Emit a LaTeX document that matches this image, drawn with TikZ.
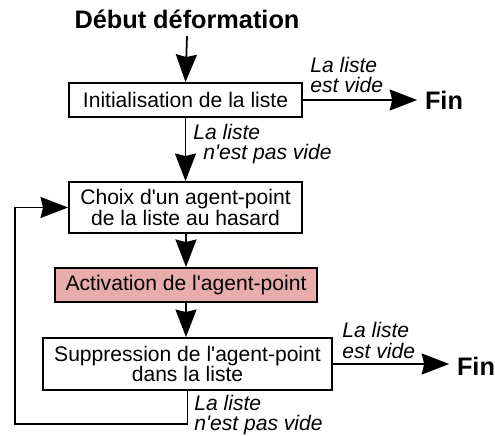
\documentclass[tikz,border=0pt]{standalone}
\usepackage{fontspec}
\setmainfont{Liberation Sans}
\usepackage{tikz}
\usetikzlibrary{arrows.meta, positioning, calc}
\definecolor{activpink}{HTML}{E9ACAC}
\newcommand{\apo}{\textquotesingle}
\tikzset{
  etape/.style={draw=black, line width=1.1pt, fill=white, align=center,
                inner sep=2pt, font=\fontsize{12}{11.8}\selectfont},
  titre/.style={font=\fontsize{14.4}{16}\selectfont\bfseries, inner sep=0.15cm},
  cond/.style={align=left, inner sep=0pt, font=\fontsize{12}{11.8}\selectfont\itshape},
  arrow/.style={-{Stealth[length=0.55cm,width=0.42cm,inset=0.05cm]}, line width=1pt}
}

\begin{document}
\begin{tikzpicture}
        \useasboundingbox (0,0) rectangle (9.9,8.72);

        \node[titre] (debut) at (3.74, 8.34) {Début déformation};

        \node[etape, minimum width=4.66cm, minimum height=0.68cm] (init) at (3.71, 6.72) {Initialisation de la liste};
        \node[etape, minimum width=4.66cm, minimum height=1.02cm] (choix) at (3.71, 4.57) {Choix d\apo un agent-point\\de la liste au hasard};
        \node[etape, fill=activpink, minimum width=5.24cm, minimum height=0.68cm] (activ) at (3.72, 3.02) {Activation de l\apo agent-point};
        \node[etape, minimum width=5.78cm, minimum height=1.04cm] (suppr) at (3.75, 1.44) {Suppression de l\apo agent-point\\dans la liste};

        \node[titre] (fin1) at (8.88, 6.72) {Fin};
        \node[titre] (fin2) at (9.52, 1.40) {Fin};

        \node[cond, anchor=west] (vide1) at (6.20, 7.22) {La liste\\est vide};
        \node[cond, anchor=west] (pasvide1) at (3.86, 5.84) {La liste\\\hspace*{0.2cm}n\apo est pas vide};
        \node[cond, anchor=west] (vide2) at (6.84, 1.91) {La liste\\est vide};
        \node[cond, anchor=west] (pasvide2) at (3.88, 0.42) {La liste\\n\apo est pas vide};

        \coordinate (boucle) at (0.30, 0.24);

        \draw[arrow] (debut.south) -- (init.north);
        \draw[arrow] (init.east) -- (fin1.west);
        \draw[arrow] (init.south) -- (choix.north);
        \draw[arrow] (choix.south) -- (activ.south |- choix.south) -- (activ.north);
        \draw[arrow] (activ.south) -- (activ.south |- suppr.north);
        \draw[arrow] (suppr.east) -- (suppr.east -| fin2.west);
        \draw[arrow] (suppr.south) |- (boucle) |- (choix.west);
      \end{tikzpicture}
\end{document}
